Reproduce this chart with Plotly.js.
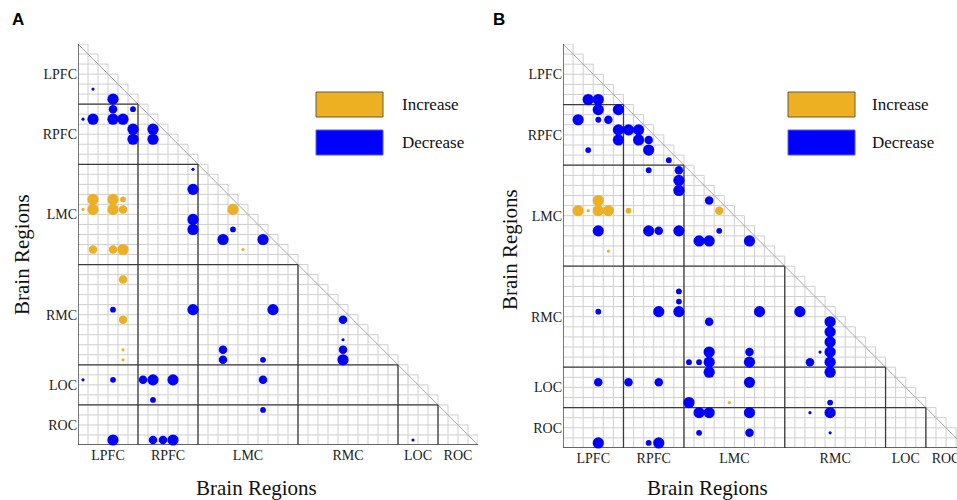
<!DOCTYPE html>
<html>
<head>
<meta charset="utf-8">
<script src="https://cdn.plot.ly/plotly-3.0.1.min.js"></script>
<style>html,body{margin:0;padding:0;background:#fff}#chart{width:957px;height:500px}</style>
</head>
<body>
<div id="chart"></div>
<script>
// ---- data ----
const groupNames = ["LPFC","RPFC","LMC","RMC","LOC","ROC"];
const groupSizes = [6, 6, 10, 10, 4, 4];

// Panel A: decrease (blue)  [row, col, magnitude 1..4]
const aDecRow = [4,5,6,6,7,7,7,7,8,9,8,9,12,14,17,18,18,19,19,26,26,26,27,29,30,31,30,31,31,33,36,39,33,33,33,33,33,35,39,39,39,39];
const aDecCol = [1,3,3,5,0,1,3,4,5,5,7,7,11,11,11,11,15,14,18,3,11,19,26,26,26,26,14,14,18,18,18,33,0,3,6,7,9,7,3,7,8,9];
const aDecMag = [1,4,3,2,1,4,4,4,4,4,4,4,1,4,4,4,2,4,4,2,4,4,3,1,3,4,3,3,2,3,2,1,1,2,3,4,4,2,4,3,3,4];
// Panel A: increase (orange)
const aIncRow = [15,15,15,16,16,16,16,16,20,20,20,20,23,27,30,31];
const aIncCol = [1,3,4,0,1,3,4,15,16,1,3,4,4,4,4,4];
const aIncMag = [4,4,2,1,4,4,3,4,1,3,3,4,3,3,1,1];

// Panel B: decrease (blue)
const bDecRow = [5,5,6,6,7,7,7,8,8,8,9,9,9,10,10,11,12,12,13,14,15,18,18,18,18,18,19,19,19,24,25,26,26,26,26,26,27,27,28,29,30,31,32,30,31,30,31,32,30,31,31,31,33,33,33,33,35,35,36,36,36,36,36,38,38,38,39,39,39];
const bDecCol = [2,3,3,5,1,3,4,5,6,7,5,7,8,8,2,10,8,11,11,11,14,3,8,9,11,15,13,14,18,11,11,11,3,9,19,23,14,26,26,26,26,26,26,25,24,14,14,14,18,18,12,13,3,6,9,18,12,26,13,14,18,24,26,13,18,26,3,8,9];
const bDecMag = [4,4,4,4,4,2,3,4,4,4,4,4,3,4,2,2,2,3,4,4,3,4,4,3,4,2,4,4,4,2,2,4,2,4,4,4,3,4,4,4,4,4,4,1,3,4,4,4,3,4,2,2,3,3,3,4,4,2,4,4,4,1,4,2,3,1,4,2,4];
// Panel B: increase (orange)
const bIncRow = [15,16,16,16,16,16,16,20,35];
const bIncCol = [3,1,2,3,4,6,15,4,16];
const bIncMag = [4,4,1,4,4,2,3,1,1];

const legendLabels = ["Increase","Decrease"];

// ---- styles ----
const ORANGE = "#EDB022";
const BLUE = "#0000FF";
const W = 957, H = 500;
const px = x => x / W;
const py = y => 1 - y / H;
const serif = "Liberation Serif, Times New Roman, serif";
const magSize = m => [0, 3.2, 5.8, 8.5, 11.2][m];

const N = groupSizes.reduce((a, b) => a + b, 0);
const bounds = [0];
groupSizes.forEach(s => bounds.push(bounds[bounds.length - 1] + s));
const centers = groupSizes.map((s, i) => bounds[i] + s / 2);

function gridTraces(xa, ya) {
  const lx = [], ly = [];
  for (let k = 0; k <= N; k++) {
    lx.push(0, Math.min(k + 1, N), null); ly.push(k, k, null);
    lx.push(k, k, null); ly.push(Math.max(k - 1, 0), N, null);
  }
  const dx = [], dy = [];
  for (let i = 1; i < bounds.length - 1; i++) {
    const b = bounds[i];
    dx.push(0, b, null); dy.push(b, b, null);
    dx.push(b, b, null); dy.push(b, N, null);
  }
  dx.push(0, 0, N, null); dy.push(0, N, N, null);
  return [
    {type: "scatter", mode: "lines", x: lx, y: ly, xaxis: xa, yaxis: ya,
     line: {color: "#cfcfcf", width: 1}, hoverinfo: "skip", showlegend: false},
    {type: "scatter", mode: "lines", x: [0, N], y: [0, N], xaxis: xa, yaxis: ya,
     line: {color: "#a8a8a8", width: 1}, hoverinfo: "skip", showlegend: false},
    {type: "scatter", mode: "lines", x: dx, y: dy, xaxis: xa, yaxis: ya,
     line: {color: "#3c3c3c", width: 1.3}, hoverinfo: "skip", showlegend: false}
  ];
}

function dots(rows, cols, mags, color, xa, ya, name) {
  return {type: "scatter", mode: "markers", name: name,
    x: cols.map(c => c + 0.5), y: rows.map(r => r + 0.5), xaxis: xa, yaxis: ya,
    marker: {color: color, opacity: 1, size: mags.map(magSize), line: {width: 0}},
    showlegend: false, cliponaxis: false};
}

const data = [
  ...gridTraces("x", "y"),
  ...gridTraces("x2", "y2"),
  dots(aDecRow, aDecCol, aDecMag, BLUE, "x", "y", "Decrease"),
  dots(aIncRow, aIncCol, aIncMag, ORANGE, "x", "y", "Increase"),
  dots(bDecRow, bDecCol, bDecMag, BLUE, "x2", "y2", "Decrease"),
  dots(bIncRow, bIncCol, bIncMag, ORANGE, "x2", "y2", "Increase")
];

const tickFont = {family: serif, size: 14, color: "#222"};
const xBase = {range: [0, N], showgrid: false, zeroline: false, showline: false,
  ticks: "", tickvals: centers, ticktext: groupNames, tickfont: tickFont, fixedrange: true,
  ticklabeloverflow: "allow"};
const yBase = {range: [N, 0], autorange: false, showgrid: false, zeroline: false, showline: false,
  ticks: "", tickvals: centers, ticktext: groupNames, tickfont: tickFont, fixedrange: true,
  ticklabeloverflow: "allow"};

const cellB = 10.08;
const layout = {
  width: W, height: H,
  margin: {l: 0, r: 0, t: 0, b: 0},
  paper_bgcolor: "#fff", plot_bgcolor: "rgba(0,0,0,0)",
  showlegend: false,
  xaxis: Object.assign({}, xBase, {domain: [px(78), px(478)], anchor: "y"}),
  yaxis: Object.assign({}, yBase, {domain: [py(445), py(44)], anchor: "x"}),
  xaxis2: Object.assign({}, xBase, {domain: [px(563), 1], range: [0, (W - 563) / cellB], anchor: "y2"}),
  yaxis2: Object.assign({}, yBase, {domain: [py(448), py(44)], anchor: "x2"}),
  shapes: [],
  annotations: []
};

// panel letters, axis titles, legends
const panels = [
  {letter: "A", lx: 18, ytx: 22, yty: 255, xtx: 256, xty: 488, legX: 316, txtX: 400},
  {letter: "B", lx: 499, ytx: 510, yty: 250, xtx: 707, xty: 488, legX: 788, txtX: 870}
];
const ann = (x, y, text, font, extra) => Object.assign({xref: "paper", yref: "paper",
  x: px(x), y: py(y), text: text, showarrow: false, xanchor: "center", yanchor: "middle", font: font}, extra || {});
panels.forEach(p => {
  layout.annotations.push(ann(p.lx, 19, "<b>" + p.letter + "</b>",
    {family: "Liberation Sans, Arial, sans-serif", size: 17, color: "#000"}));
  layout.annotations.push(ann(p.ytx, p.yty, "Brain Regions", {family: serif, size: 21, color: "#111"}, {textangle: -90}));
  layout.annotations.push(ann(p.xtx, p.xty, "Brain Regions", {family: serif, size: 21, color: "#111"}));
  const legColors = [ORANGE, BLUE];
  const legY = [[92, 117], [130, 155]];
  legendLabels.forEach((lab, i) => {
    layout.shapes.push({type: "rect", xref: "paper", yref: "paper",
      x0: px(p.legX), x1: px(p.legX + 67), y0: py(legY[i][1]), y1: py(legY[i][0]),
      fillcolor: legColors[i], line: {color: i === 0 ? "#6b5a3a" : "#5a5aff", width: 1}});
    layout.annotations.push(ann(p.txtX, (legY[i][0] + legY[i][1]) / 2, lab,
      {family: serif, size: 17, color: "#111"}, {xanchor: "left"}));
  });
});

Plotly.newPlot("chart", data, layout, {staticPlot: true});
</script>
</body>
</html>
